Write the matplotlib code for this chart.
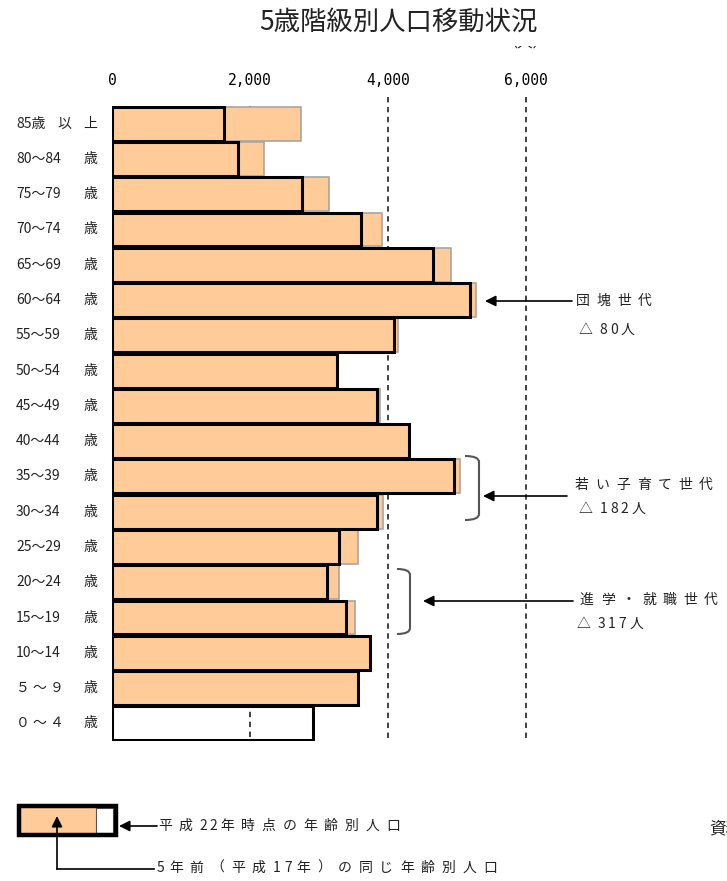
import matplotlib
matplotlib.use("Agg")
import matplotlib.pyplot as plt
from matplotlib.patches import Rectangle, PathPatch, FancyArrowPatch
from matplotlib.path import Path
from matplotlib.transforms import Affine2D, Bbox, blended_transform_factory

plt.rcParams['font.family'] = ['Noto Sans CJK JP', 'DejaVu Sans']

W, H = 727, 881

# 年齢階級（上から85歳以上）, "|" で区切った部分を均等に配置する
age_labels = ["85歳|以|上", "80～84|歳", "75～79|歳", "70～74|歳", "65～69|歳",
              "60～64|歳", "55～59|歳", "50～54|歳", "45～49|歳", "40～44|歳",
              "35～39|歳", "30～34|歳", "25～29|歳", "20～24|歳", "15～19|歳",
              "10～14|歳", "５ ～ ９|歳", "０ ～ ４|歳"]
# 平成22年時点の年齢別人口
pop_h22 = [1620, 1820, 2750, 3615, 4645, 5190, 4080, 3255, 3835, 4310,
           4950, 3840, 3285, 3110, 3385, 3745, 3560, 2920]
# 5年前（平成17年）の同じ年齢別人口
pop_h17 = [2745, 2210, 3150, 3920, 4920, 5270, 4150, 3255, 3890, 4310,
           5040, 3932, 3570, 3290, 3522, 3745, 3560, 0]

x_ticks = [0, 2000, 4000, 6000]
x_tick_labels = ["0", "2,000", "4,000", "6,000"]

fig = plt.figure(figsize=(W / 100, H / 100), dpi=100)
# 画像左上を原点とするピクセル座標
px = Affine2D().scale(1 / W, -1 / H).translate(0, 1) + fig.transFigure

ax = fig.add_axes([112 / W, (H - 741) / H, 552 / W, 635 / H])
rows = list(range(len(age_labels)))

ax.barh(rows, pop_h17, height=0.96, color='#FFCC99', edgecolor='#A6A6A6',
        linewidth=1.2, zorder=2)
ax.barh(rows, pop_h22, height=0.96, fill=False, edgecolor='black',
        linewidth=2.2, zorder=3)

ax.set_xlim(0, 8000)
ax.set_ylim(17.5, -0.5)

# 目盛り線（破線）
dash = (0, (3, 2.5))
ax.vlines(2000, -0.5, 17.5, colors='#333333', linestyles=dash, lw=1.3, zorder=1)
ax.vlines([4000, 6000], -0.76, 17.5, colors='#333333', linestyles=dash, lw=1.3,
          zorder=1, clip_on=False)

ax.xaxis.tick_top()
ax.set_xticks(x_ticks)
ax.set_xticklabels(x_tick_labels, fontfamily='DejaVu Sans Mono', fontsize=10.5)
ax.tick_params(axis='x', length=0, pad=13)
ax.set_yticks([])
for s in ax.spines.values():
    s.set_visible(False)

# 年齢ラベル
lab_tf = blended_transform_factory(px, ax.transData)
renderer = fig.canvas.get_renderer()


def spread(label, y, x0=16, x1=97):
    parts = label.split("|")
    arts = [ax.text(0, y, p, transform=lab_tf, ha='left', va='center',
                    fontsize=10, color='#222222') for p in parts]
    widths = [a.get_window_extent(renderer).width for a in arts]
    gap = (x1 - x0 - sum(widths)) / max(len(parts) - 1, 1)
    x = x0
    for a, w in zip(arts, widths):
        a.set_x(x)
        x += w + gap


for r, lab in zip(rows, age_labels):
    spread(lab, r)


def spaced(s, x, y, full=20.7, half=10.5, size=10):
    for ch in s:
        fig.text(x, y, ch, transform=px, ha='left', va='center', fontsize=size,
                 color='#222222')
        x += half if ord(ch) < 0x2000 else full


def arrow(start, tip, lw=1.2):
    fig.add_artist(FancyArrowPatch(start, tip, transform=px, arrowstyle='-|>',
                                   color='black', lw=lw, mutation_scale=16,
                                   shrinkA=0, shrinkB=0, zorder=5))


def bracket(x0, x1, y0, y1):
    r = 6
    verts = [(x0, y0), (x1, y0), (x1, y0 + r), (x1, y1 - r), (x1, y1), (x0, y1)]
    codes = [Path.MOVETO, Path.CURVE3, Path.CURVE3, Path.LINETO, Path.CURVE3, Path.CURVE3]
    fig.add_artist(PathPatch(Path(verts, codes), fill=False, edgecolor='#555555',
                             lw=1.5, transform=px))


# 団塊世代
arrow((572, 301), (485, 301))
spaced("団塊世代", 576, 301)
spaced("△80人", 579, 330)

# 若い子育て世代
bracket(465, 479, 456, 520)
arrow((567, 496), (483, 496))
spaced("若い子育て世代", 575, 485)
spaced("△182人", 579, 509)

# 進学・就職世代
bracket(397, 410, 569, 634)
arrow((573, 601), (423, 601))
spaced("進学・就職世代", 580, 600)
spaced("△317人", 577, 624)

# タイトル
fig.text(398, 22, "5歳階級別人口移動状況", transform=px, ha='center', va='center',
         fontsize=19, color='#222222')

# 単位（上端が切れている）
unit = fig.text(525, 42, "（人）", transform=px, ha='center', va='center',
                fontsize=11, color='#222222')
unit.set_clip_on(True)
unit.set_clip_box(Bbox.from_extents(500, H - 51, 560, H - 46))

# 凡例
fig.add_artist(Rectangle((21, 808), 75, 25, facecolor='#FFCC99', edgecolor='none',
                         transform=px))
fig.add_artist(Rectangle((96, 808), 17, 25, facecolor='white', edgecolor='#555555',
                         lw=0.8, transform=px))
fig.add_artist(Rectangle((18.5, 806), 97, 29, fill=False, edgecolor='black',
                         lw=3.2, transform=px))
arrow((157, 826), (119, 826))
spaced("平成22年時点の年齢別人口", 158, 826)
arrow((57, 869), (57, 816))
fig.add_artist(plt.Line2D([57, 154], [869, 869], color='black', lw=1.2, transform=px))
spaced("5年前（平成17年）の同じ年齢別人口", 157, 868, half=12)

# 出典（右端で切れる）
fig.text(709, 829, "資料：", transform=px, ha='left', va='center', fontsize=12,
         color='#222222')

fig.savefig("out.png", dpi=100)
